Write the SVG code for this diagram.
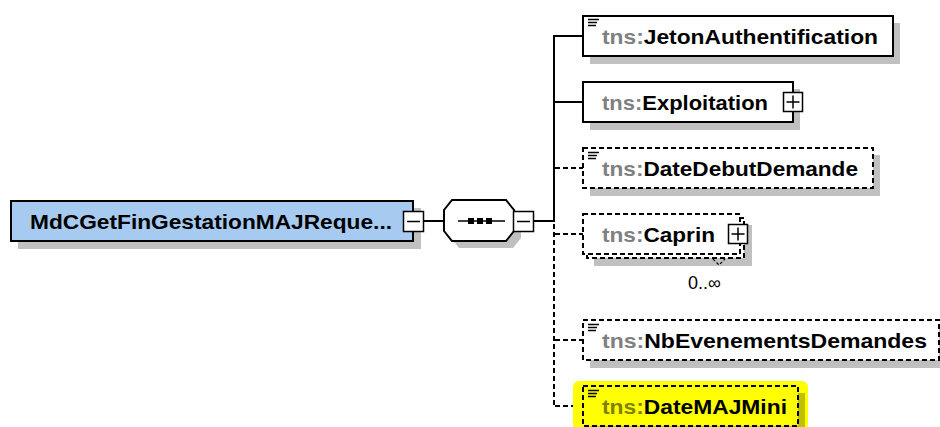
<svg xmlns="http://www.w3.org/2000/svg" width="940" height="427" viewBox="0 0 940 427">
<style>
.bg{fill:#ffffff}
.box{fill:#ffffff;stroke:#000;stroke-width:2}
.opt{stroke-dasharray:5 3}
.sh{fill:#c0c0c0}
.lbl{font-family:"Liberation Sans",Arial,sans-serif;font-size:21px;font-weight:bold;fill:#000}
.pfx{fill:#808080}
.btn{fill:#fff;stroke:#000;stroke-width:1.5}
.sign{stroke:#000;stroke-width:1.5;fill:none}
.ico{stroke:#000;stroke-width:1.5}
.con{stroke:#000;stroke-width:2;fill:none}
.dash{stroke-dasharray:5 3}
.occ{font-family:"Liberation Sans",Arial,sans-serif;font-size:18px;fill:#000}
</style>
<rect class="bg" x="0" y="0" width="940" height="427"/>

<g id="connectors">
  <line class="con" x1="424" y1="221" x2="444" y2="221"/>
  <line class="con" x1="534" y1="221" x2="554" y2="221"/>
  <line class="con" x1="554" y1="35" x2="554" y2="222"/>
  <line class="con dash" x1="554" y1="224" x2="554" y2="407"/>
  <line class="con" x1="553" y1="36" x2="583" y2="36"/>
  <line class="con" x1="553" y1="102" x2="583" y2="102"/>
  <line class="con dash" x1="555" y1="168" x2="583" y2="168"/>
  <line class="con dash" x1="555" y1="234" x2="583" y2="234"/>
  <line class="con dash" x1="555" y1="340" x2="583" y2="340"/>
  <line class="con dash" x1="555" y1="406" x2="583" y2="406"/>
</g>

<g id="root">
  <rect class="sh" x="18" y="208" width="403" height="41"/>
  <rect x="11" y="201" width="402" height="40" fill="#a6caf0" stroke="#000" stroke-width="2"/>
  <text class="lbl" x="30" y="228.5" textLength="362" lengthAdjust="spacingAndGlyphs">MdCGetFinGestationMAJReque...</text>
  <rect class="btn" x="403.5" y="211.5" width="20" height="20"/>
  <line class="sign" x1="407" y1="221.5" x2="420" y2="221.5"/>
</g>

<g id="sequence">
  <polygon class="sh" points="459,207 513,207 521,217 521,238 513,248 459,248 451,238 451,217"/>
  <polygon points="452,200 506,200 514,210 514,231 506,241 452,241 444,231 444,210" fill="#fff" stroke="#000" stroke-width="2"/>
  <line x1="458" y1="221" x2="505" y2="221" stroke="#000" stroke-width="1.5"/>
  <rect x="468" y="218" width="6" height="6" fill="#000"/>
  <rect x="477" y="218" width="6" height="6" fill="#000"/>
  <rect x="486" y="218" width="6" height="6" fill="#000"/>
  <rect class="btn" x="513.5" y="211.5" width="20" height="20"/>
  <line class="sign" x1="517" y1="221.5" x2="530" y2="221.5"/>
</g>

<g id="JetonAuthentification">
  <rect class="sh" x="590" y="23" width="310" height="41"/>
  <rect class="box" x="583" y="16" width="310" height="40"/>
  <line class="ico" x1="588" y1="19.5" x2="599" y2="19.5"/>
  <line class="ico" x1="588" y1="22.5" x2="597" y2="22.5"/>
  <line class="ico" x1="588" y1="25.5" x2="596" y2="25.5"/>
  <text class="lbl" x="602" y="43.5" textLength="276" lengthAdjust="spacingAndGlyphs"><tspan class="pfx">tns:</tspan>JetonAuthentification</text>
</g>

<g id="Exploitation">
  <rect class="sh" x="590" y="89" width="210" height="41"/>
  <rect class="box" x="583" y="82" width="210" height="40"/>
  <text class="lbl" x="602" y="109.5" textLength="166" lengthAdjust="spacingAndGlyphs"><tspan class="pfx">tns:</tspan>Exploitation</text>
  <rect class="btn" x="783.5" y="92.5" width="19" height="19"/>
  <line class="sign" x1="786.5" y1="102" x2="799.5" y2="102"/>
  <line class="sign" x1="793" y1="95.5" x2="793" y2="108.5"/>
</g>

<g id="DateDebutDemande">
  <rect class="sh" x="590" y="155" width="290" height="41"/>
  <rect class="box opt" x="583" y="148" width="290" height="40"/>
  <line class="ico" x1="588" y1="152.5" x2="599" y2="152.5"/>
  <line class="ico" x1="588" y1="155.5" x2="597" y2="155.5"/>
  <line class="ico" x1="588" y1="158.5" x2="596" y2="158.5"/>
  <text class="lbl" x="602" y="175.5" textLength="256" lengthAdjust="spacingAndGlyphs"><tspan class="pfx">tns:</tspan>DateDebutDemande</text>
</g>

<g id="Caprin">
  <rect class="sh" x="594" y="225" width="158" height="41"/>
  <rect class="box opt" x="587" y="218" width="157" height="40"/>
  <rect class="box opt" x="583" y="214" width="157" height="40"/>
  <text class="lbl" x="602" y="241.5" textLength="113" lengthAdjust="spacingAndGlyphs"><tspan class="pfx">tns:</tspan>Caprin</text>
  <rect class="btn" x="728.5" y="224.5" width="19" height="19"/>
  <line class="sign" x1="731.5" y1="234" x2="744.5" y2="234"/>
  <line class="sign" x1="738" y1="227.5" x2="738" y2="240.5"/>
  <polyline points="713,259 719,265 725,259" fill="none" stroke="#000" stroke-width="1.2" stroke-dasharray="3 2"/>
  <text class="occ" x="688" y="289">0..∞</text>
</g>

<g id="NbEvenementsDemandes">
  <rect class="sh" x="590" y="327" width="356" height="41"/>
  <rect class="box opt" x="583" y="320" width="356" height="40"/>
  <line class="ico" x1="588" y1="324.5" x2="599" y2="324.5"/>
  <line class="ico" x1="588" y1="327.5" x2="597" y2="327.5"/>
  <line class="ico" x1="588" y1="330.5" x2="596" y2="330.5"/>
  <text class="lbl" x="602" y="347.5" textLength="325" lengthAdjust="spacingAndGlyphs"><tspan class="pfx">tns:</tspan>NbEvenementsDemandes</text>
</g>

<g id="DateMAJMini">
  <rect x="573" y="381" width="235" height="50" rx="6" fill="#ffff00"/>
  <rect x="590" y="393" width="215" height="41" fill="#c0c000"/>
  <rect x="583" y="386" width="215" height="40" fill="#ffff00" stroke="#000" stroke-width="2" stroke-dasharray="5 3"/>
  <line class="ico" x1="588" y1="390.5" x2="599" y2="390.5"/>
  <line class="ico" x1="588" y1="393.5" x2="597" y2="393.5"/>
  <line class="ico" x1="588" y1="396.5" x2="596" y2="396.5"/>
  <text class="lbl" x="602" y="413.5" textLength="185" lengthAdjust="spacingAndGlyphs"><tspan fill="#808000">tns:</tspan>DateMAJMini</text>
</g>
</svg>
